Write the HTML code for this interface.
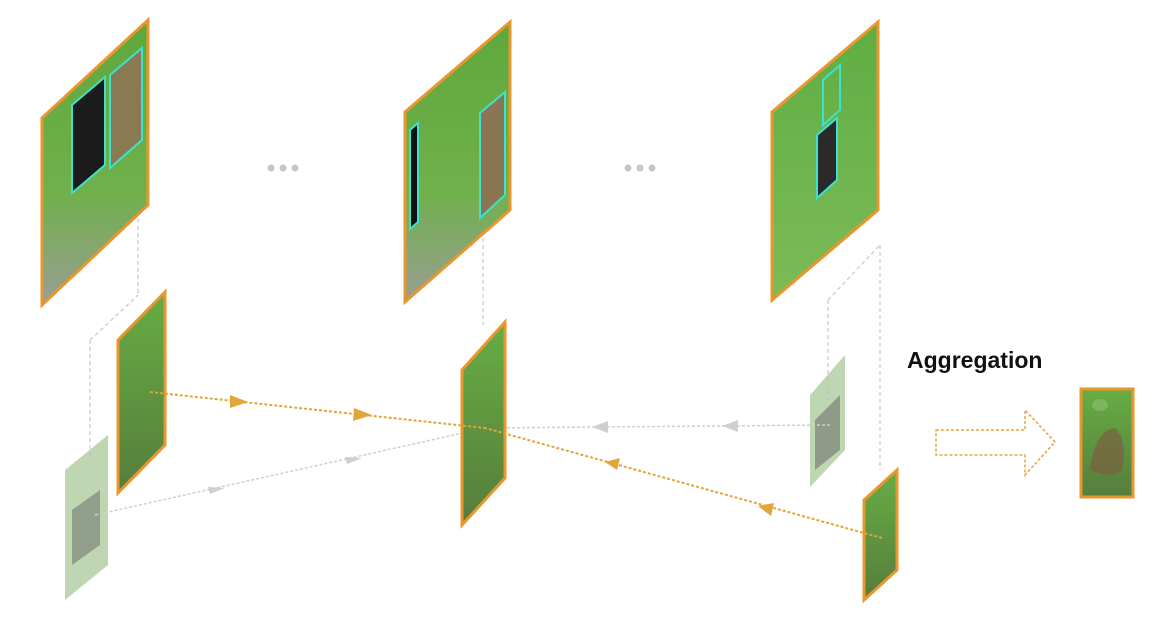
<!DOCTYPE html>
<html><head><meta charset="utf-8"><style>
html,body{margin:0;padding:0;background:#fff;width:1158px;height:638px;overflow:hidden}
svg{display:block}
text{font-family:"Liberation Sans",sans-serif}
</style></head><body>
<svg width="1158" height="638" viewBox="0 0 1158 638">
<defs>
<linearGradient id="g1" x1="0" y1="0" x2="0" y2="1"><stop offset="0" stop-color="#5fa83c"/><stop offset="0.6" stop-color="#6fb04a"/><stop offset="1" stop-color="#9a9e94"/></linearGradient>
<linearGradient id="g3" x1="0" y1="0" x2="0" y2="1"><stop offset="0" stop-color="#5fae42"/><stop offset="1" stop-color="#7dbb58"/></linearGradient>
<linearGradient id="gc" x1="0" y1="0" x2="0" y2="1"><stop offset="0" stop-color="#67ad44"/><stop offset="1" stop-color="#567d3c"/></linearGradient>
</defs>
<g stroke="#c8c8c8" stroke-width="1.2" stroke-dasharray="4,3" fill="none">
<line x1="138" y1="205" x2="138" y2="295"/><line x1="90" y1="340" x2="90" y2="455"/><line x1="90" y1="340" x2="138" y2="295"/>
<line x1="483" y1="210" x2="483" y2="325"/>
<line x1="828" y1="300" x2="828" y2="400"/><line x1="880" y1="245" x2="880" y2="470"/><line x1="828" y1="300" x2="880" y2="245"/>
</g>
<polygon points="42,118 148,20 148,205 42,305" fill="url(#g1)" stroke="#e8962e" stroke-width="3"/>
<polygon points="72,105 105,77 105,165 72,193" fill="#1b1b1b" stroke="#3ee0d0" stroke-width="2"/>
<polygon points="110,75 142,48 142,140 110,168" fill="#8a7a52" stroke="#3ee0d0" stroke-width="2"/>
<polygon points="405,112 510,22 510,210 405,302" fill="url(#g1)" stroke="#e8962e" stroke-width="3"/>
<polygon points="410,130 418,123 418,222 410,229" fill="#111" stroke="#3ee0d0" stroke-width="2"/>
<polygon points="480,113 505,92 505,195 480,218" fill="#8a7652" stroke="#3ee0d0" stroke-width="2"/>
<polygon points="772,112 878,22 878,210 772,300" fill="url(#g3)" stroke="#e8962e" stroke-width="3"/>
<polygon points="823,80 840,65 840,110 823,125" fill="none" stroke="#3ee0d0" stroke-width="2"/>
<polygon points="817,135 837,118 837,180 817,198" fill="#2a2a2a" stroke="#3ee0d0" stroke-width="2"/>
<g fill="#c6c6c6"><circle cx="271" cy="168" r="3.5"/><circle cx="283" cy="168" r="3.5"/><circle cx="295" cy="168" r="3.5"/></g>
<g fill="#c6c6c6"><circle cx="628" cy="168" r="3.5"/><circle cx="640" cy="168" r="3.5"/><circle cx="652" cy="168" r="3.5"/></g>
<polygon points="65,470 108,435 108,565 65,600" fill="#a9c89a" opacity="0.75"/>
<polygon points="72,510 100,490 100,545 72,565" fill="#666" opacity="0.5"/>
<polygon points="810,395 845,355 845,450 810,487" fill="#a9c89a" opacity="0.75"/>
<polygon points="815,420 840,395 840,450 815,470" fill="#555" opacity="0.45"/>
<g stroke="#cfcfcf" stroke-width="1.5" stroke-dasharray="3,2" fill="none"><line x1="95" y1="515" x2="485" y2="428"/><line x1="830" y1="425" x2="485" y2="428"/></g>
<g fill="#cfcfcf"><polygon points="225,488 208,487 210,494"/><polygon points="362,458 345,457 347,464"/><polygon points="592,427 608,421 608,433"/><polygon points="722,426 738,420 738,432"/></g>
<polygon points="118,340 165,292 165,445 118,493" fill="url(#gc)" stroke="#e8962e" stroke-width="3"/>
<polygon points="462,370 505,322 505,478 462,525" fill="url(#gc)" stroke="#e8962e" stroke-width="3"/>
<polygon points="864,500 897,470 897,570 864,600" fill="url(#gc)" stroke="#e8962e" stroke-width="3"/>
<g stroke="#e3a53a" stroke-width="2" stroke-dasharray="3,2" fill="none"><line x1="150" y1="392" x2="485" y2="428"/><line x1="882" y1="538" x2="485" y2="428"/></g>
<g fill="#e3a53a"><polygon points="248,402 230,395 230,408"/><polygon points="372,415 354,408 353,421"/><polygon points="605,462 620,458 617,470"/><polygon points="758,506 774,503 771,516"/></g>
<text x="907" y="368" font-size="23" font-weight="bold" fill="#111">Aggregation</text>
<polygon points="936,430 1025,430 1025,410 1055,442 1025,475 1025,455 936,455" fill="none" stroke="#e3a53a" stroke-width="1.5" stroke-dasharray="3,2"/>
<rect x="1081" y="389" width="52" height="108" fill="url(#gc)" stroke="#e8962e" stroke-width="3"/>
<path d="M1090,470 Q1095,430 1115,428 Q1128,440 1122,470 Q1110,480 1090,470 Z" fill="#7a6040" opacity="0.7"/>
<ellipse cx="1100" cy="405" rx="8" ry="6" fill="#8fbf70" opacity="0.6"/>
</svg>
</body></html>
